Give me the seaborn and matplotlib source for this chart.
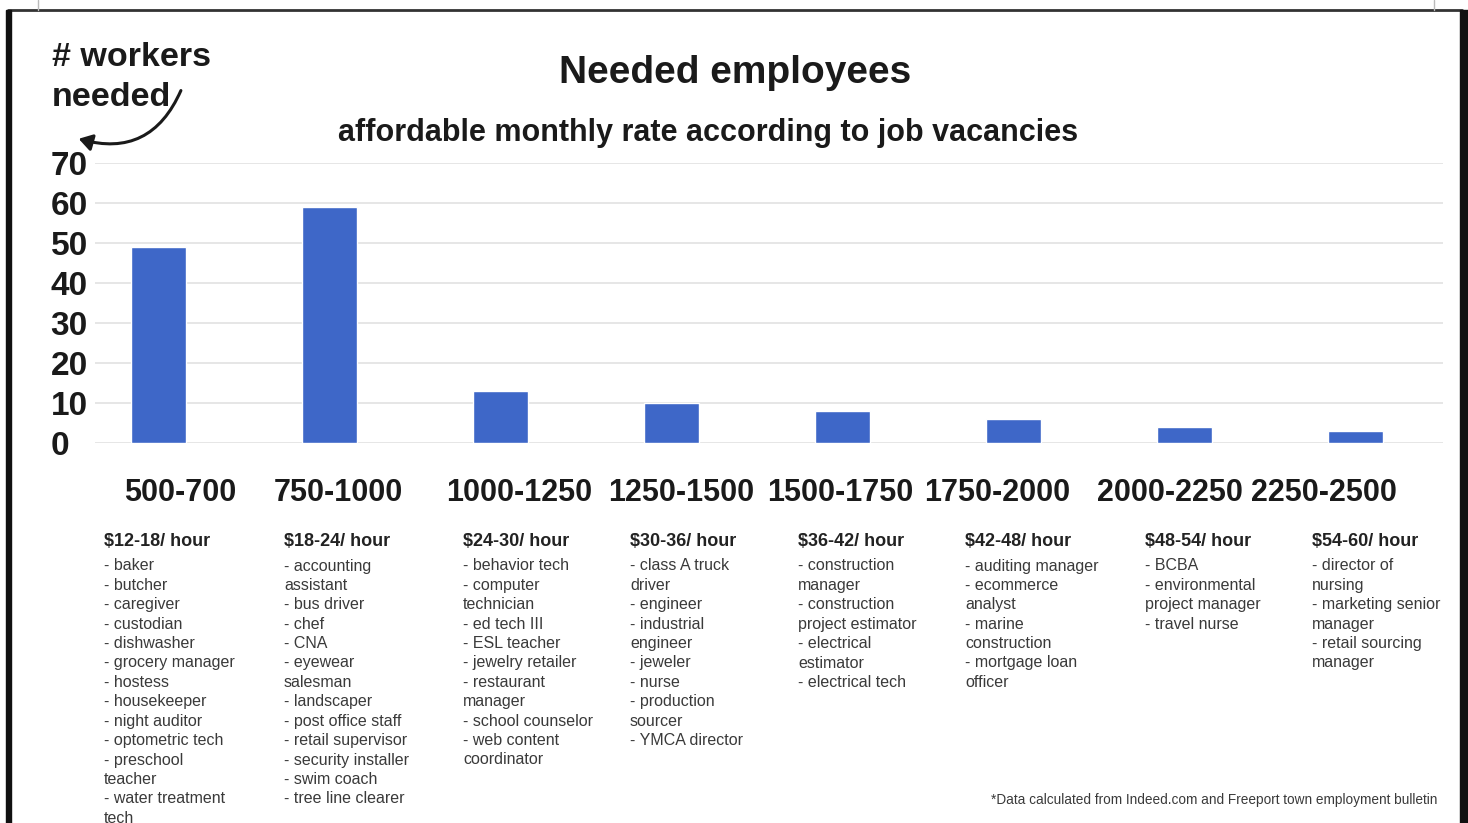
import matplotlib
matplotlib.use("Agg")
import matplotlib.pyplot as plt
import matplotlib.transforms as mtransforms
import seaborn as sns
import pandas as pd
from matplotlib.patches import FancyArrowPatch, Rectangle
from matplotlib.lines import Line2D

# ---------------- data ----------------
categories = ["500-700", "750-1000", "1000-1250", "1250-1500",
              "1500-1750", "1750-2000", "2000-2250", "2250-2500"]
workers_needed = [49, 59, 13, 10, 8, 6, 4, 3]
y_ticks = [0, 10, 20, 30, 40, 50, 60, 70]

wage_headers = ["$12-18/ hour", "$18-24/ hour", "$24-30/ hour", "$30-36/ hour",
                "$36-42/ hour", "$42-48/ hour", "$48-54/ hour", "$54-60/ hour"]
jobs_1 = ["- baker", "- butcher", "- caregiver", "- custodian", "- dishwasher",
          "- grocery manager", "- hostess", "- housekeeper", "- night auditor",
          "- optometric tech", "- preschool", "teacher", "- water treatment", "tech"]
jobs_2 = ["- accounting", "assistant", "- bus driver", "- chef", "- CNA", "- eyewear",
          "salesman", "- landscaper", "- post office staff", "- retail supervisor",
          "- security installer", "- swim coach", "- tree line clearer"]
jobs_3 = ["- behavior tech", "- computer", "technician", "- ed tech III", "- ESL teacher",
          "- jewelry retailer", "- restaurant", "manager", "- school counselor",
          "- web content", "coordinator"]
jobs_4 = ["- class A truck", "driver", "- engineer", "- industrial", "engineer",
          "- jeweler", "- nurse", "- production", "sourcer", "- YMCA director"]
jobs_5 = ["- construction", "manager", "- construction", "project estimator",
          "- electrical", "estimator", "- electrical tech"]
jobs_6 = ["- auditing manager", "- ecommerce", "analyst", "- marine", "construction",
          "- mortgage loan", "officer"]
jobs_7 = ["- BCBA", "- environmental", "project manager", "- travel nurse"]
jobs_8 = ["- director of", "nursing", "- marketing senior", "manager",
          "- retail sourcing", "manager"]
job_lists = [jobs_1, jobs_2, jobs_3, jobs_4, jobs_5, jobs_6, jobs_7, jobs_8]

title = "Needed employees"
subtitle = "affordable monthly rate according to job vacancies"
footnote = "*Data calculated from Indeed.com and Freeport town employment bulletin"

# ---------------- layout ----------------
W, H = 1468, 823
sns.set_theme(style="white")
plt.rcParams["font.family"] = ["Liberation Sans", "DejaVu Sans"]

fig = plt.figure(figsize=(W / 100, H / 100), dpi=100)
fig.patch.set_facecolor("white")


def fx(px):
    return px / W


def fy(py):
    return 1 - py / H


ax_left, ax_right, ax_top, ax_bottom = 95, 1443, 163, 443
ax = fig.add_axes([fx(ax_left), fy(ax_bottom), fx(ax_right - ax_left),
                   (ax_bottom - ax_top) / H])

df = pd.DataFrame({"range": categories, "workers": workers_needed})
sns.barplot(data=df, x="range", y="workers", color="#3e67c8", width=0.32,
            saturation=1, ax=ax, zorder=3)

ax.set_ylim(0, 70)
ax.set_xlim(-0.37, 7.51)
ax.set_yticks(y_ticks)
ax.set_yticklabels([str(v) for v in y_ticks], fontsize=24, fontweight="bold",
                   color="#1a1a1a")
for lab in ax.get_yticklabels():
    lab.set_horizontalalignment("left")
ax.tick_params(axis="y", length=0, pad=32)
ax.tick_params(axis="x", length=0, pad=25)
ax.set_xticks(range(len(categories)))
ax.set_xticklabels(categories, fontsize=22, fontweight="bold", color="#1a1a1a")
# slide text boxes sit slightly off the bar centres
label_shift_px = [22, 9, 19, 10, -2, -16, -15, -32]
for lab, dx in zip(ax.get_xticklabels(), label_shift_px):
    lab.set_transform(lab.get_transform() +
                      mtransforms.ScaledTranslation(dx / 100, 0, fig.dpi_scale_trans))
ax.set_xlabel("")
ax.set_ylabel("")
ax.grid(axis="y", color="#e2e2e2", linewidth=1.2, zorder=0)
for s in ax.spines.values():
    s.set_visible(False)

# titles
fig.text(fx(735), fy(73), title, ha="center", va="center", fontsize=28,
         fontweight="bold", color="#1a1a1a")
fig.text(fx(708), fy(133), subtitle, ha="center", va="center", fontsize=22,
         fontweight="bold", color="#1a1a1a")
fig.text(fx(52), fy(57), "# workers", ha="left", va="center", fontsize=24.5,
         fontweight="bold", color="#1a1a1a")
fig.text(fx(52), fy(97), "needed", ha="left", va="center", fontsize=24.5,
         fontweight="bold", color="#1a1a1a")

# curved arrow
arrow = FancyArrowPatch((fx(182), fy(88)), (fx(76), fy(138)),
                        transform=fig.transFigure, connectionstyle="arc3,rad=-0.45",
                        arrowstyle="-|>,head_length=8,head_width=5",
                        color="#1a1a1a", linewidth=2.2)
fig.add_artist(arrow)

# wage blocks below the categories
block_x = [104, 284, 463, 630, 798, 965, 1145, 1312]
for bx, head, items in zip(block_x, wage_headers, job_lists):
    fig.text(fx(bx), fy(541), head, ha="left", va="center", fontsize=13,
             fontweight="bold", color="#222222")
    for i, item in enumerate(items):
        fig.text(fx(bx), fy(566 + 19.4 * i), item, ha="left", va="center",
                 fontsize=11.5, color="#3a3a3a")

fig.text(fx(1437), fy(800), footnote, ha="right", va="center", fontsize=9.8,
         color="#3a3a3a")

# slide frame
fig.add_artist(Line2D([fx(8), fx(1462)], [fy(10), fy(10)], color="#333333",
                      linewidth=2, transform=fig.transFigure))
fig.add_artist(Rectangle((fx(6), 0), fx(5), fy(10), color="#111111",
                         transform=fig.transFigure, zorder=5))
fig.add_artist(Rectangle((fx(1460), 0), fx(8), fy(10), color="#111111",
                         transform=fig.transFigure, zorder=5))
fig.add_artist(Line2D([fx(38), fx(38)], [fy(0), fy(10)], color="#bbbbbb",
                      linewidth=1, transform=fig.transFigure))
fig.add_artist(Line2D([fx(1434), fx(1434)], [fy(0), fy(10)], color="#bbbbbb",
                      linewidth=1, transform=fig.transFigure))

fig.savefig("out.png", dpi=100)
